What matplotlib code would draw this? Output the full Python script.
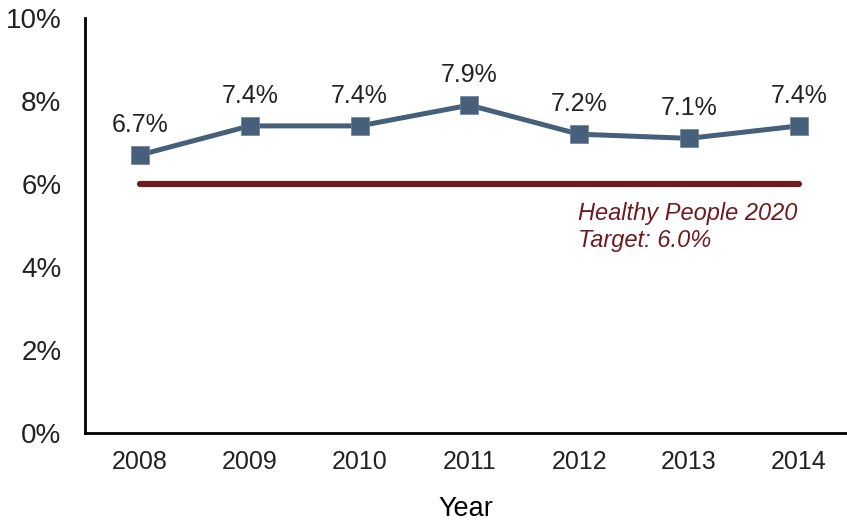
import matplotlib.pyplot as plt
from matplotlib.ticker import FuncFormatter

years = [2008, 2009, 2010, 2011, 2012, 2013, 2014]
rates = [6.7, 7.4, 7.4, 7.9, 7.2, 7.1, 7.4]
target = 6.0

plt.rcParams['font.family'] = ['Liberation Sans', 'DejaVu Sans']

fig = plt.figure(figsize=(8.47, 5.21), dpi=100)
ax = fig.add_axes([85/847, 88/521, 1 - 85/847, 415/521])

# target line
ax.plot([years[0], years[-1]], [target, target], color='#6e1c22', lw=4.5,
        solid_capstyle='round', zorder=2)
ax.text(2011.99, 5.56, 'Healthy People 2020\nTarget: 6.0%', color='#6e1c22',
        style='italic', fontsize=17, ha='left', va='top', linespacing=1.2)

# main series
ax.plot(years, rates, color='#46607b', lw=3.6, marker='s', markersize=12.5,
        markeredgecolor='#6a8096', markeredgewidth=0.5, zorder=3)
for x, y in zip(years, rates):
    ax.annotate(f'{y:.1f}%', (x, y), xytext=(0, 13), textcoords='offset points',
                ha='center', va='bottom', fontsize=18, color='#222222')

ax.set_xlim(2007.5, 2007.5 + 762/109.83)
ax.set_ylim(0, 10)
ax.set_yticks([0, 2, 4, 6, 8, 10])
ax.yaxis.set_major_formatter(FuncFormatter(lambda v, p: f'{v:.0f}%'))
ax.set_xticks(years)
ax.tick_params(length=0, colors='#222222')
ax.tick_params(axis='x', labelsize=18, pad=12)
ax.tick_params(axis='y', labelsize=20, pad=17)
ax.set_xlabel('Year', fontsize=19.5, labelpad=16, color='black')

for s in ['top', 'right']:
    ax.spines[s].set_visible(False)
for s in ['left', 'bottom']:
    ax.spines[s].set_linewidth(2)
    ax.spines[s].set_color('black')

fig.savefig('out.png', dpi=100)
